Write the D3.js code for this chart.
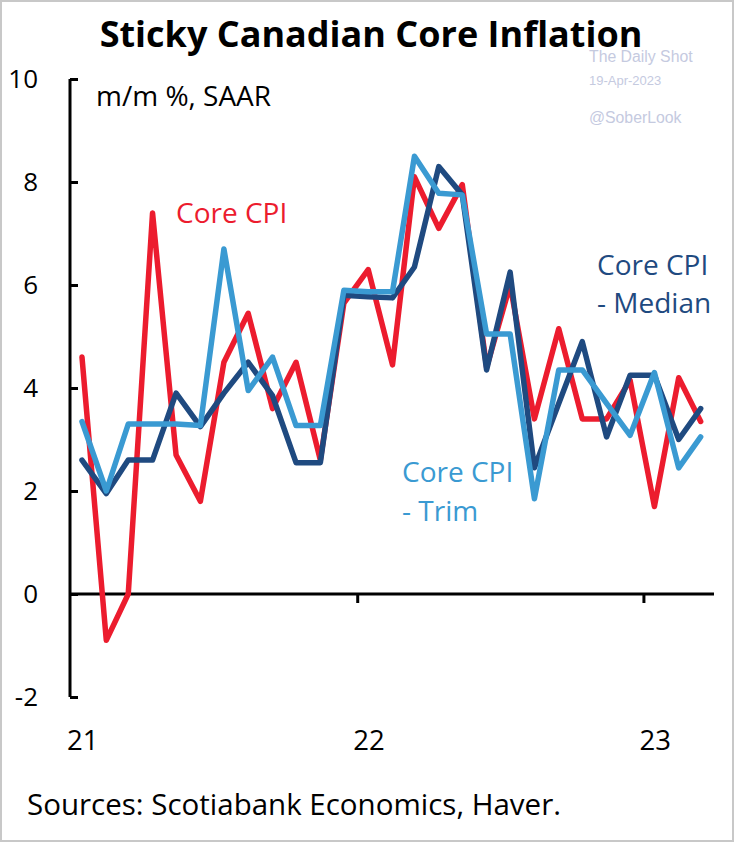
<!DOCTYPE html>
<html>
<head>
<meta charset="utf-8">
<script src="https://cdn.jsdelivr.net/npm/d3@7"></script>
<style>
  html, body { margin: 0; padding: 0; background: #fff; }
  svg { display: block; }
</style>
</head>
<body>
<script>
// ---- data ----
const months = ["2021-01","2021-02","2021-03","2021-04","2021-05","2021-06","2021-07","2021-08","2021-09","2021-10","2021-11","2021-12",
                "2022-01","2022-02","2022-03","2022-04","2022-05","2022-06","2022-07","2022-08","2022-09","2022-10","2022-11","2022-12",
                "2023-01","2023-02","2023-03"];
const coreCPI = [4.6,-0.9,0.0,7.4,2.7,1.8,4.5,5.45,3.6,4.5,2.6,5.65,
                 6.3,4.45,8.1,7.1,7.95,4.4,6.0,3.4,5.15,3.4,3.4,4.15,
                 1.7,4.2,3.35];
const coreMedian = [2.6,1.95,2.6,2.6,3.9,3.25,3.9,4.5,3.85,2.55,2.55,5.8,
                    5.77,5.75,6.35,8.3,7.75,4.35,6.25,2.45,3.7,4.9,3.05,4.25,
                    4.25,3.0,3.6];
const coreTrim = [3.35,2.0,3.3,3.3,3.3,3.27,6.7,3.95,4.6,3.27,3.27,5.9,
                  5.87,5.87,8.5,7.78,7.75,5.05,5.05,1.85,4.35,4.35,3.7,3.08,
                  4.3,2.45,3.05];
const yTicks = [-2,0,2,4,6,8,10];
const xTickYears = ["2021-01-01","2022-01-01","2023-01-01"];
const xTickLabels = ["21","22","23"];

const W = 735, H = 846;
const font = "'Open Sans', 'Noto Sans', sans-serif";
const wmFont = "'Liberation Sans', Arial, sans-serif";
const svg = d3.select("body").append("svg").attr("width", W).attr("height", H);

svg.append("rect").attr("x",1).attr("y",1).attr("width",W-3).attr("height",840)
  .attr("fill","#fff").attr("stroke","#c8c8c8").attr("stroke-width",2);

const parse = d3.utcParse("%Y-%m-%d");
const dates = months.map(m => parse(m + "-15"));

const x = d3.scaleUtc().domain([parse("2021-01-01"), parse("2023-04-01")]).range([71, 714]);
const y = d3.scaleLinear().domain([-2, 10]).range([697, 79]);

// title
svg.append("text").attr("x", 371).attr("y", 47).attr("text-anchor","middle")
  .attr("font-family", font).attr("font-weight", 700).attr("font-size", 36)
  .attr("fill","#000").text("Sticky Canadian Core Inflation");

// watermark
svg.append("text").attr("x", 589).attr("y", 62).attr("font-family", wmFont)
  .attr("font-size", 15.8).attr("fill","#c5cadf").text("The Daily Shot");
svg.append("text").attr("x", 589).attr("y", 85).attr("font-family", wmFont)
  .attr("font-size", 13).attr("fill","#c5cadf").text("19-Apr-2023");
svg.append("text").attr("x", 589).attr("y", 123).attr("font-family", wmFont)
  .attr("font-size", 15.8).attr("fill","#c5cadf").text("@SoberLook");

// y axis
const yAxis = d3.axisRight(y).tickValues(yTicks).tickSize(8).tickFormat("");
const gy = svg.append("g").attr("transform","translate(70,0)").call(yAxis);
gy.select(".domain").attr("stroke","#000").attr("stroke-width",3).attr("d", `M0,${y(10)}V${y(-2)}`);
gy.selectAll(".tick line").attr("stroke","#000").attr("stroke-width",3);
svg.append("g").selectAll("text").data(yTicks).join("text")
  .attr("x", 38).attr("y", d => y(d) + 9).attr("text-anchor","end")
  .attr("font-family", font).attr("font-size", 26).attr("fill","#000")
  .text(d => d);

// zero line with x ticks
const xAxis = d3.axisBottom(x).tickValues(xTickYears.slice(1).map(parse)).tickSize(9).tickFormat("");
const gx = svg.append("g").attr("transform",`translate(0,${y(0)})`).call(xAxis);
gx.select(".domain").attr("stroke","#000").attr("stroke-width",3).attr("d", `M70,0H714`);
gx.selectAll(".tick line").attr("stroke","#000").attr("stroke-width",3);
svg.append("g").selectAll("text").data(xTickYears).join("text")
  .attr("x", (d) => x(parse(d)) - 4).attr("y", 750)
  .attr("font-family", font).attr("font-size", 27.5).attr("fill","#000")
  .text((d,i) => xTickLabels[i]);

// unit label
svg.append("text").attr("x", 96).attr("y", 106)
  .attr("font-family", font).attr("font-size", 28).attr("fill","#000").text("m/m %, SAAR");

// lines
const series = [
  {vals: coreCPI, color: "#ec1c2e"},
  {vals: coreMedian, color: "#1f4a80"},
  {vals: coreTrim, color: "#3a9ad2"}
];
const line = d3.line().x((d,i) => x(dates[i])).y(d => y(d)).curve(d3.curveLinear);
svg.append("g").selectAll("path").data(series).join("path")
  .attr("d", s => line(s.vals)).attr("fill","none")
  .attr("stroke", s => s.color).attr("stroke-width", 5.5)
  .attr("stroke-linejoin","round").attr("stroke-linecap","round");

// series labels
svg.append("text").attr("x", 176).attr("y", 223).attr("font-family", font)
  .attr("font-size", 28).attr("fill","#ec1c2e").text("Core CPI");
const med = svg.append("text").attr("font-family", font).attr("font-size", 28).attr("fill","#1f4a80");
med.append("tspan").attr("x", 597).attr("y", 275).text("Core CPI");
med.append("tspan").attr("x", 597).attr("y", 313).text("- Median");
const trim = svg.append("text").attr("font-family", font).attr("font-size", 28).attr("fill","#3a9ad2");
trim.append("tspan").attr("x", 402).attr("y", 482).text("Core CPI");
trim.append("tspan").attr("x", 402).attr("y", 521).text("- Trim");

// source
svg.append("text").attr("x", 27).attr("y", 815).attr("font-family", font)
  .attr("font-size", 29.5).attr("fill","#000").text("Sources: Scotiabank Economics, Haver.");
</script>
</body>
</html>
